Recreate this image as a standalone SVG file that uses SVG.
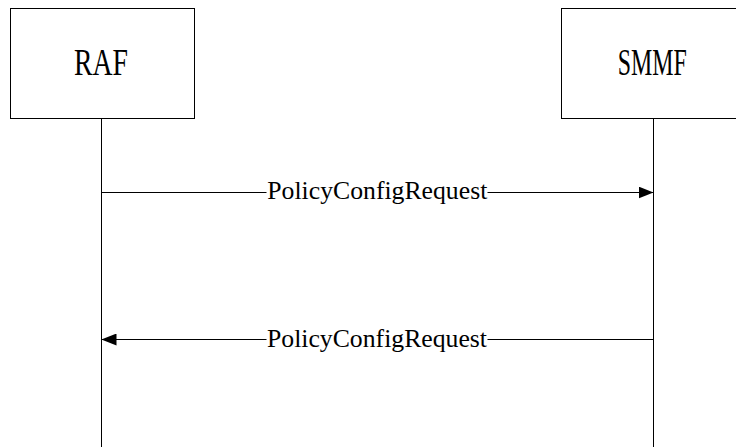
<svg xmlns="http://www.w3.org/2000/svg" width="736" height="447" viewBox="0 0 736 447">
<style>
.box{fill:#fff;stroke:#000;stroke-width:1}
.life{stroke:#000;stroke-width:1;fill:none}
.msg{stroke:#000;stroke-width:1;fill:none}
.title{font-family:"Liberation Serif","DejaVu Serif",serif;font-size:37px;fill:#000;text-anchor:middle}
.lbl{font-family:"Liberation Serif","DejaVu Serif",serif;font-size:25.7px;fill:#000;text-anchor:middle}
.bg{fill:#fff;stroke:none}
</style>
<defs>
<marker id="ah" markerWidth="15" markerHeight="12" refX="15" refY="6" orient="auto" markerUnits="userSpaceOnUse">
<path d="M0,0 L15,6 L0,12 Z" fill="#000"/>
</marker>
</defs>
<rect width="736" height="447" fill="#fff"/>
<g id="RAF">
<rect class="box" x="10.5" y="8.5" width="184" height="110"/>
<text class="title" x="101" y="74.5" textLength="54" lengthAdjust="spacingAndGlyphs">RAF</text>
<line class="life" x1="101.5" y1="118.5" x2="101.5" y2="447"/>
</g>
<g id="SMMF">
<rect class="box" x="561.5" y="8.5" width="184" height="110"/>
<text class="title" x="652.2" y="74.5" textLength="69" lengthAdjust="spacingAndGlyphs">SMMF</text>
<line class="life" x1="653.5" y1="118.5" x2="653.5" y2="447"/>
</g>
<g id="connectors">
<g id="msg1">
<line class="msg" x1="101.5" y1="192.5" x2="653.5" y2="192.5" marker-end="url(#ah)"/>
<rect class="bg" x="266.5" y="180" width="221" height="26"/>
<text class="lbl" x="377.3" y="199.3" textLength="220" lengthAdjust="spacingAndGlyphs">PolicyConfigRequest</text>
</g>
<g id="msg2">
<line class="msg" x1="653.5" y1="339.5" x2="101.5" y2="339.5" marker-end="url(#ah)"/>
<rect class="bg" x="266.5" y="327" width="221" height="26"/>
<text class="lbl" x="377" y="346.5" textLength="220" lengthAdjust="spacingAndGlyphs">PolicyConfigRequest</text>
</g>
</g>
</svg>
